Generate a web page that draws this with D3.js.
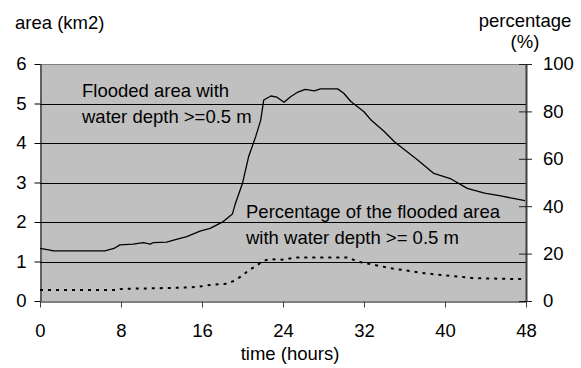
<!DOCTYPE html>
<html>
<head>
<meta charset="utf-8">
<script src="https://cdn.jsdelivr.net/npm/d3@7"></script>
<style>
  html, body { margin: 0; padding: 0; background: #fff; }
  svg { display: block; font-family: "Liberation Sans", Arial, sans-serif; }
</style>
</head>
<body>
<svg id="chart" width="581" height="368"></svg>
<script>
// Flooded area (km2) over time (hours)
const areaHours = [0, 1, 1.3, 6.4, 7.3, 7.9, 9.2, 10.2, 10.9, 11.2, 12.5, 13.2, 14.5, 15.8, 16.8, 18.1, 19.0, 19.3, 20.0, 20.6, 21.3, 21.8, 22.1, 22.8, 23.4, 24.1, 24.75, 25.4, 26.2, 27.1, 27.7, 29.4, 30.0, 30.7, 32.0, 32.7, 34.0, 35.0, 37.3, 38.9, 40.6, 42.2, 43.9, 45.5, 47.9];
const areaKm2 = [1.33, 1.29, 1.27, 1.27, 1.33, 1.42, 1.44, 1.48, 1.44, 1.48, 1.49, 1.54, 1.63, 1.77, 1.84, 2.01, 2.20, 2.47, 2.98, 3.65, 4.16, 4.58, 5.09, 5.19, 5.16, 5.03, 5.17, 5.28, 5.36, 5.32, 5.37, 5.37, 5.26, 5.05, 4.79, 4.58, 4.29, 4.03, 3.57, 3.23, 3.09, 2.85, 2.73, 2.66, 2.54];

// Share of the flooded area with water depth >= 0.5 m (%)
const pctHours = [0, 7.7, 8, 13.9, 15.5, 17, 18.5, 19.2, 19.9, 20.6, 21.4, 22.1, 22.8, 23.6, 24.4, 25.2, 26, 30.4, 31.4, 34.7, 38, 39.6, 42.9, 48];
const pctValues = [4.6, 4.6, 5.1, 5.6, 5.9, 6.9, 7.3, 8.6, 10.5, 12.9, 15.0, 17.0, 17.7, 17.3, 17.7, 18.3, 18.4, 18.4, 16.6, 13.8, 11.7, 11.0, 9.6, 9.2];

const timeTicks = [0, 8, 16, 24, 32, 40, 48];
const areaTicks = [0, 1, 2, 3, 4, 5, 6];
const pctTicks = [0, 20, 40, 60, 80, 100];

const svg = d3.select("#chart");
const fontSize = "18.5px";

const x = d3.scaleLinear().domain([0, 48]).range([40, 526]);
const yArea = d3.scaleLinear().domain([0, 6]).range([301, 64]);
const yPct = d3.scaleLinear().domain([0, 100]).range([301, 64]);

// plot background
svg.append("rect")
  .attr("x", x(0)).attr("y", yArea(6))
  .attr("width", x(48) - x(0)).attr("height", yArea(0) - yArea(6))
  .attr("fill", "#c0c0c0");

// horizontal gridlines
svg.append("g").selectAll("line")
  .data(areaTicks.filter(d => d > 0))
  .join("line")
  .attr("x1", x(0)).attr("x2", x(48))
  .attr("y1", d => Math.round(yArea(d)) + 0.5)
  .attr("y2", d => Math.round(yArea(d)) + 0.5)
  .attr("stroke", d => d === 6 ? "#808080" : "#000")
  .attr("stroke-width", 1);

// percentage series (dotted)
const pctLine = d3.line()
  .x((d, i) => x(pctHours[i]))
  .y(d => yPct(d));
svg.append("path")
  .datum(pctValues)
  .attr("d", pctLine)
  .attr("fill", "none")
  .attr("stroke", "#000")
  .attr("stroke-width", 2)
  .attr("stroke-dasharray", "3,5");

// area series (solid)
const areaLine = d3.line()
  .x((d, i) => x(areaHours[i]))
  .y(d => yArea(d));
svg.append("path")
  .datum(areaKm2)
  .attr("d", areaLine)
  .attr("fill", "none")
  .attr("stroke", "#000")
  .attr("stroke-width", 1.3)
  .attr("stroke-linejoin", "round");

// left axis
const gLeft = svg.append("g")
  .attr("transform", `translate(${x(0) + 0.5},0)`)
  .call(d3.axisLeft(yArea).tickValues(areaTicks).tickFormat(d3.format("d"))
    .tickSizeInner(6).tickSizeOuter(0).tickPadding(8));

// right axis
const gRight = svg.append("g")
  .attr("transform", `translate(${x(48)},0)`)
  .call(d3.axisRight(yPct).tickValues(pctTicks).tickFormat(d3.format("d"))
    .tickSizeInner(6).tickSizeOuter(0).tickPadding(11));
gRight.selectAll(".tick line").attr("x1", -7);
gRight.select(".domain").attr("stroke", "#404040").attr("stroke-width", 2);
gRight.selectAll(".tick line").attr("stroke", "#202020");

// bottom axis
const gBottom = svg.append("g")
  .attr("transform", `translate(0,${yArea(0) + 0.5})`)
  .call(d3.axisBottom(x).tickValues(timeTicks).tickFormat(d3.format("d"))
    .tickSizeInner(6).tickSizeOuter(0).tickPadding(16.5));
gBottom.selectAll(".tick line").attr("stroke", "#404040");

[gLeft, gRight, gBottom].forEach(g => {
  g.selectAll("text").attr("font-size", fontSize)
    .attr("font-family", "Liberation Sans, Arial, sans-serif").attr("fill", "#000");
});

// axis titles
const title = (txt, tx, ty, anchor) => svg.append("text")
  .attr("x", tx).attr("y", ty)
  .attr("text-anchor", anchor || "start")
  .attr("font-size", fontSize)
  .attr("fill", "#000")
  .text(txt);

title("area (km2)", 15, 29);
title("percentage", 525, 27, "middle");
title("(%)", 525, 48, "middle");
title("time (hours)", 290, 360, "middle");

// series annotations
title("Flooded area with", 82, 97);
title("water depth >=0.5 m", 82, 123);
title("Percentage of the flooded area", 246, 218);
title("with water depth >= 0.5 m", 246, 243.5);
</script>
</body>
</html>
